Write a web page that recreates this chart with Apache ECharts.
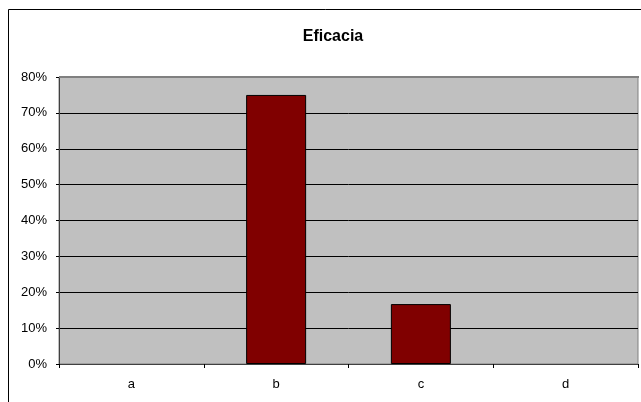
<!DOCTYPE html>
<html>
<head>
<meta charset="utf-8">
<script src="https://cdn.jsdelivr.net/npm/echarts@6/dist/echarts.min.js"></script>
<style>
  html, body { margin: 0; padding: 0; background: #fff; }
  #chart { width: 641px; height: 402px; }
</style>
</head>
<body>
<div id="chart"></div>
<script>
// datos del grafico
var categories = ['a', 'b', 'c', 'd'];
var eficacia = [0, 75, 16.7, 0];
var yTicks = [0, 10, 20, 30, 40, 50, 60, 70, 80];

var chart = echarts.init(document.getElementById('chart'));

// barras en cero sin borde
var barData = eficacia.map(function (v) {
  return v > 0 ? v : { value: v, itemStyle: { borderWidth: 0 } };
});

var option = {
  backgroundColor: '#fff',
  animation: false,
  title: {
    text: 'Eficacia',
    left: 328,
    top: 24,
    textAlign: 'center',
    textStyle: {
      fontFamily: 'Liberation Sans, Arial, sans-serif',
      fontSize: 16,
      fontWeight: 'bold',
      color: '#000'
    }
  },
  graphic: [
    {
      type: 'rect',
      shape: { x: 8.5, y: 9.5, width: 650, height: 410 },
      style: { fill: 'none', stroke: '#000', lineWidth: 1 },
      silent: true
    },
    {
      type: 'line',
      shape: { x1: 59, y1: 77, x2: 639, y2: 77 },
      style: { stroke: '#808080', lineWidth: 2 },
      z: 10,
      silent: true
    }
  ],
  grid: {
    left: 59,
    right: 3,
    top: 77,
    bottom: 38,
    show: true,
    backgroundColor: '#C0C0C0',
    borderColor: '#808080',
    borderWidth: 1
  },
  xAxis: {
    type: 'category',
    data: categories,
    axisLine: { lineStyle: { color: '#404040', width: 1 } },
    axisTick: { show: true, length: 4, lineStyle: { color: '#000' } },
    axisLabel: {
      margin: 14,
      fontFamily: 'Liberation Sans, Arial, sans-serif',
      fontSize: 13,
      color: '#000'
    },
    splitLine: { show: false }
  },
  yAxis: {
    type: 'value',
    min: yTicks[0],
    max: yTicks[yTicks.length - 1],
    interval: 10,
    axisLine: { show: true, lineStyle: { color: '#404040', width: 1 } },
    axisTick: { show: true, length: 3, lineStyle: { color: '#000' } },
    axisLabel: {
      margin: 12,
      formatter: '{value}%',
      fontFamily: 'Liberation Sans, Arial, sans-serif',
      fontSize: 13,
      color: '#000'
    },
    splitLine: { show: true, lineStyle: { color: '#000', width: 1 } }
  },
  series: [
    {
      name: 'Eficacia',
      type: 'bar',
      data: barData,
      barWidth: 60,
      itemStyle: {
        color: '#800000',
        borderColor: '#000',
        borderWidth: 1
      }
    }
  ]
};

chart.setOption(option);
</script>
</body>
</html>
